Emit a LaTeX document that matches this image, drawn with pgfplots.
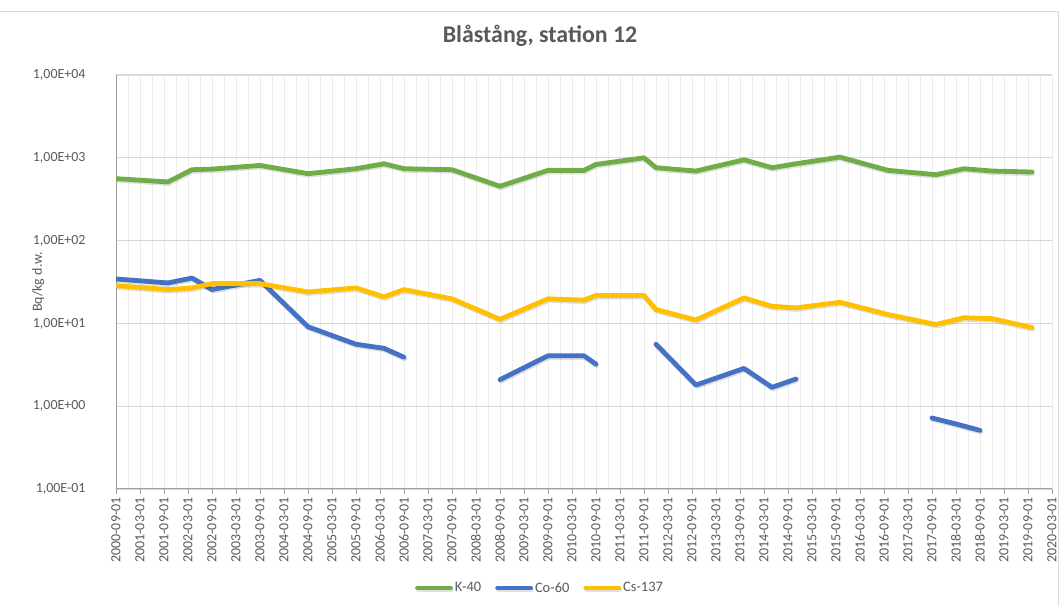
\documentclass[border=0pt]{standalone}
\usepackage{fontspec}
\setmainfont{Carlito}
\usepackage{pgfplots}
\usepackage{pgfplotstable}
\pgfplotsset{compat=1.18}
\definecolor{kgreen}{HTML}{70AD47}
\definecolor{cblue}{HTML}{4472C4}
\definecolor{cyellow}{HTML}{FFC000}
\definecolor{txtgray}{HTML}{595959}
\definecolor{gridgray}{HTML}{D9D9D9}
\definecolor{vgrid}{HTML}{EBEBEB}

\pgfplotstableread{
m v
0 560
13 511
19 718
24 730
36 809
48 643
60 738
67 847
72 738
84 718
96 453
108 705
117 705
120 832
132 1000
135 759
145 692
157 946
164 759
170 847
181 1019
193 705
205 625
212 738
219 692
229 673
}\kforty

\pgfplotstableread{
m v
0 34.4
13 30.8
19 35.3
24 25.6
36 33.1
48 9.1
60 5.6
67 5.0
72 3.9
84 nan
96 2.09
108 4.06
117 4.06
120 3.22
132 nan
135 5.6
145 1.80
157 2.86
164 1.69
170 2.13
181 nan
204 0.72
210 0.61
216 0.51
}\cosixty

\pgfplotstableread{
m v
0 28.6
13 25.6
19 26.8
24 30.2
36 30.2
48 24.0
60 26.8
67 20.9
72 25.6
84 19.8
96 11.2
108 19.8
117 19.1
120 21.7
132 21.7
135 14.7
145 11.0
157 20.3
164 16.1
170 15.4
181 18.0
193 12.8
205 9.7
212 11.7
219 11.4
229 8.9
}\csone

\begin{document}
\begin{tikzpicture}[x=1bp,y=1bp]
\useasboundingbox (0,0) rectangle (1061,606);
\draw[gridgray, line width=1bp] (0,594) -- (1058,594) -- (1058,0);
\begin{axis}[
  at={(116bp,117bp)}, anchor=south west,
  scale only axis, width=936bp, height=414bp,
  xmin=0, xmax=234, ymin=0.1, ymax=10000, ymode=log,
  separate axis lines,
  axis x line*=bottom, axis y line*=left,
  axis line style={draw=black!38, line width=1bp, -},
  xtick={0,6,...,234},
  minor xtick={3,9,...,231},
  xticklabels={2000-09-01,2001-03-01,2001-09-01,2002-03-01,2002-09-01,2003-03-01,2003-09-01,2004-03-01,2004-09-01,2005-03-01,2005-09-01,2006-03-01,2006-09-01,2007-03-01,2007-09-01,2008-03-01,2008-09-01,2009-03-01,2009-09-01,2010-03-01,2010-09-01,2011-03-01,2011-09-01,2012-03-01,2012-09-01,2013-03-01,2013-09-01,2014-03-01,2014-09-01,2015-03-01,2015-09-01,2016-03-01,2016-09-01,2017-03-01,2017-09-01,2018-03-01,2018-09-01,2019-03-01,2019-09-01,2020-03-01},
  ytick={0.1,1,10,100,1000,10000},
  yticklabels={{1,00E-01},{1,00E+00},{1,00E+01},{1,00E+02},{1,00E+03},{1,00E+04}},
  xmajorgrids, xminorgrids, ymajorgrids,
  major x grid style={draw=vgrid, line width=1bp},
  minor x grid style={draw=vgrid, line width=1bp},
  major y grid style={draw=gridgray, line width=1.2bp},
  tick align=outside,
  major tick length=5bp, minor tick length=0pt,
  xtick style={draw=black!38, line width=1bp},
  ytick style={draw=none},
  ticklabel style={font=\fontsize{14}{16}\selectfont, text=txtgray},
  xticklabel style={rotate=90, anchor=east},
  yticklabel style={anchor=east, xshift=-22bp},
  ylabel={Bq/kg d.w.},
  ylabel style={at={(axis description cs:-0.083,0.5)}, anchor=center, font=\fontsize{14}{16}\selectfont, text=txtgray},
  title={Blåstång, station 12},
  title style={at={(axis description cs:0.453,1.08)}, anchor=center, font=\bfseries\fontsize{24}{28}\selectfont, text=txtgray},
  unbounded coords=jump,
  legend style={at={(axis description cs:0.453,-0.239)}, anchor=center, legend columns=-1, draw=none, fill=none, font=\fontsize{14.5}{16}\selectfont, text=txtgray, /tikz/every even column/.append style={column sep=12bp}},
  legend image code/.code={\draw[#1, line cap=round] (0bp,0bp) -- (33bp,0bp);},
  every axis plot/.append style={line width=4.8bp, line join=round, line cap=round,
    preaction={draw=black, draw opacity=0.12, transform canvas={shift={(0.8bp,-1.6bp)}}}},
]
\addplot[kgreen] table[x=m,y=v]{\kforty};
\addlegendentry{K-40}
\addplot[cblue] table[x=m,y=v]{\cosixty};
\addlegendentry{Co-60}
\addplot[cyellow] table[x=m,y=v]{\csone};
\addlegendentry{Cs-137}
\end{axis}
\end{tikzpicture}
\end{document}
